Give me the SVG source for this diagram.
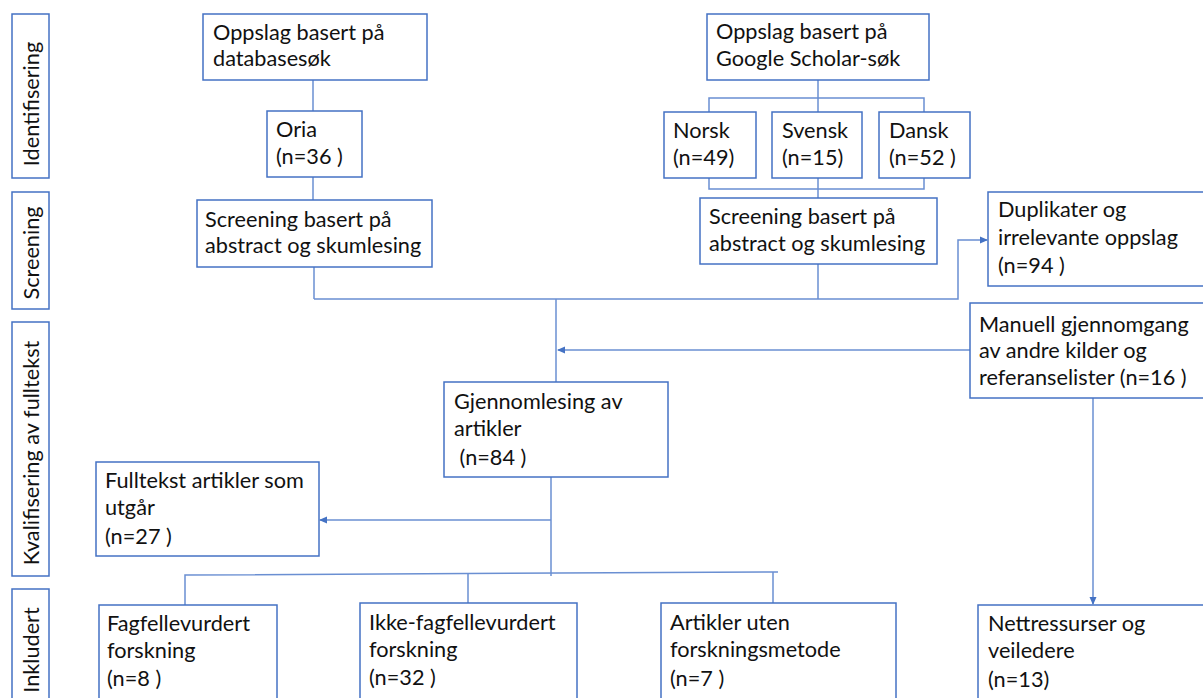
<svg xmlns="http://www.w3.org/2000/svg" width="1203" height="698" viewBox="0 0 1203 698">
<style>
.b{fill:#fff;stroke:#4472C4;stroke-width:1.5}
.t{font-family:Lato,"Liberation Sans",sans-serif;font-size:21.7px;fill:#111}
.c{fill:none;stroke:#6A8FD2;stroke-width:1.5}
</style>
<defs>
<marker id="ah" markerWidth="8" markerHeight="8" refX="7" refY="4" orient="auto" markerUnits="userSpaceOnUse">
<path d="M0,0.5 L8,4 L0,7.5 Z" fill="#4472C4"/>
</marker>
</defs>
<rect width="1203" height="698" fill="#fff"/>

<g id="phases">
<g id="ph-identifisering"><rect class="b" x="12" y="14" width="37" height="164"/><text class="t" transform="translate(39,104) rotate(-90)" text-anchor="middle">Identifisering</text></g>
<g id="ph-screening"><rect class="b" x="12" y="192" width="37" height="117"/><text class="t" transform="translate(39,253) rotate(-90)" text-anchor="middle">Screening</text></g>
<g id="ph-kvalifisering"><rect class="b" x="12" y="322" width="37" height="254"/><text class="t" transform="translate(39,453) rotate(-90)" text-anchor="middle">Kvalifisering av fulltekst</text></g>
<g id="ph-inkludert"><rect class="b" x="12" y="589" width="37" height="120"/><text class="t" transform="translate(39,650) rotate(-90)" text-anchor="middle">Inkludert</text></g>
</g>

<g id="connectors">
<line class="c" x1="313" y1="80" x2="313" y2="111"/>
<line class="c" x1="313" y1="177" x2="313" y2="200"/>
<line class="c" x1="314" y1="267" x2="314" y2="299"/>
<line class="c" x1="818" y1="80" x2="818" y2="112"/>
<polyline class="c" points="709,112 709,98 924,98 924,112"/>
<polyline class="c" points="709,178 709,189 924,189 924,178"/>
<line class="c" x1="818" y1="178" x2="818" y2="198"/>
<line class="c" x1="818" y1="264" x2="818" y2="299"/>
<polyline class="c" points="314,299 958,299 958,240 987,240" marker-end="url(#ah)"/>
<line class="c" x1="556" y1="299" x2="556" y2="382"/>
<line class="c" x1="970" y1="350" x2="558" y2="350" marker-end="url(#ah)"/>
<line class="c" x1="551" y1="477" x2="551" y2="576"/>
<line class="c" x1="551" y1="520" x2="320" y2="520" marker-end="url(#ah)"/>
<polyline class="c" points="185,605 185,575 778,572"/>
<line class="c" x1="468" y1="574" x2="468" y2="603"/>
<line class="c" x1="773" y1="572" x2="773" y2="603"/>
<line class="c" x1="1093" y1="398" x2="1093" y2="604" marker-end="url(#ah)"/>
</g>

<g id="n-database"><rect class="b" x="203" y="14" width="224" height="66"/><text class="t" x="213" y="40">Oppslag basert på</text><text class="t" x="213" y="66">databasesøk</text></g>
<g id="n-oria"><rect class="b" x="267" y="111" width="95" height="66"/><text class="t" x="276" y="137">Oria</text><text class="t" x="276" y="164">(n=36 )</text></g>
<g id="n-screen1"><rect class="b" x="197" y="200" width="235" height="67"/><text class="t" x="205" y="227">Screening basert på</text><text class="t" x="205" y="253">abstract og skumlesing</text></g>
<g id="n-google"><rect class="b" x="707" y="14" width="222" height="66"/><text class="t" x="716" y="39">Oppslag basert på</text><text class="t" x="716" y="66">Google Scholar-søk</text></g>
<g id="n-norsk"><rect class="b" x="664" y="112" width="92" height="66"/><text class="t" x="673" y="138">Norsk</text><text class="t" x="673" y="165">(n=49)</text></g>
<g id="n-svensk"><rect class="b" x="772" y="112" width="90" height="66"/><text class="t" x="782" y="138">Svensk</text><text class="t" x="782" y="165">(n=15)</text></g>
<g id="n-dansk"><rect class="b" x="879" y="112" width="91" height="66"/><text class="t" x="889" y="138">Dansk</text><text class="t" x="889" y="165">(n=52 )</text></g>
<g id="n-screen2"><rect class="b" x="700" y="198" width="237" height="66"/><text class="t" x="709" y="224">Screening basert på</text><text class="t" x="709" y="251">abstract og skumlesing</text></g>
<g id="n-duplikater"><rect class="b" x="988" y="192" width="230" height="94"/><text class="t" x="998" y="217">Duplikater og</text><text class="t" x="998" y="245">irrelevante oppslag</text><text class="t" x="998" y="273">(n=94 )</text></g>
<g id="n-manuell"><rect class="b" x="970" y="303" width="248" height="95"/><text class="t" x="979" y="332">Manuell gjennomgang</text><text class="t" x="979" y="358">av andre kilder og</text><text class="t" x="979" y="385">referanselister (n=16 )</text></g>
<g id="n-gjennom"><rect class="b" x="444" y="382" width="224" height="95"/><text class="t" x="454" y="409">Gjennomlesing av</text><text class="t" x="454" y="436">artikler</text><text class="t" x="454" y="465" xml:space="preserve"> (n=84 )</text></g>
<g id="n-fulltekst"><rect class="b" x="96" y="462" width="223" height="94"/><text class="t" x="105" y="488">Fulltekst artikler som</text><text class="t" x="105" y="515">utgår</text><text class="t" x="105" y="544">(n=27 )</text></g>
<g id="n-fagfelle"><rect class="b" x="99" y="605" width="178" height="110"/><text class="t" x="107" y="631">Fagfellevurdert</text><text class="t" x="107" y="658">forskning</text><text class="t" x="107" y="686">(n=8 )</text></g>
<g id="n-ikke"><rect class="b" x="360" y="603" width="217" height="110"/><text class="t" x="369" y="630">Ikke-fagfellevurdert</text><text class="t" x="369" y="657">forskning</text><text class="t" x="369" y="685">(n=32 )</text></g>
<g id="n-artikler"><rect class="b" x="661" y="603" width="235" height="110"/><text class="t" x="670" y="630">Artikler uten</text><text class="t" x="670" y="657">forskningsmetode</text><text class="t" x="670" y="686">(n=7 )</text></g>
<g id="n-nett"><rect class="b" x="978" y="605" width="240" height="110"/><text class="t" x="988" y="631">Nettressurser og</text><text class="t" x="988" y="658">veiledere</text><text class="t" x="988" y="687">(n=13)</text></g>
</svg>
